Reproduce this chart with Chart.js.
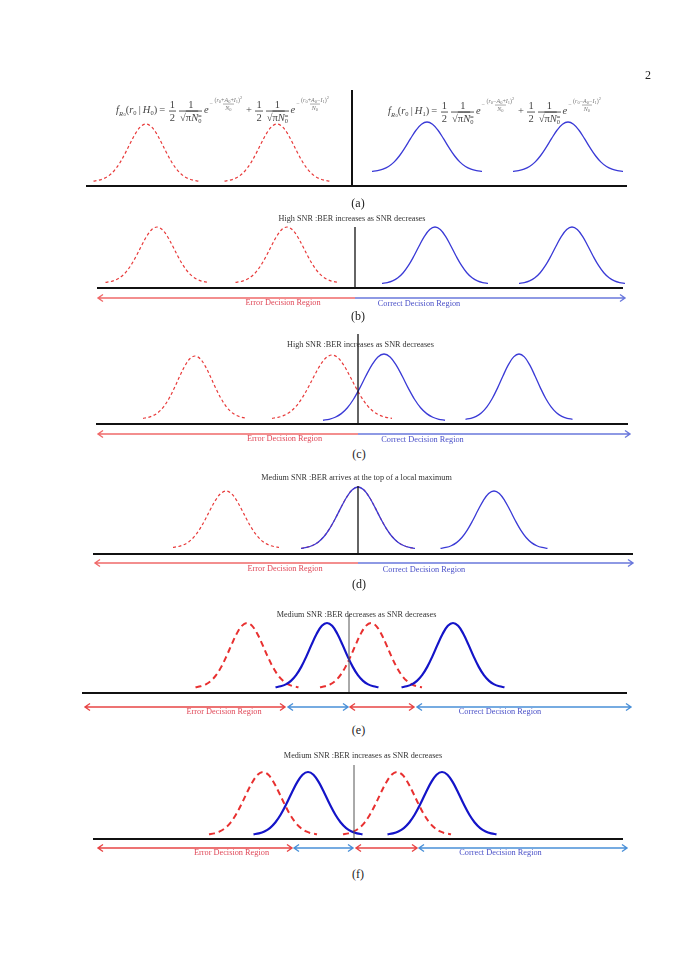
<!DOCTYPE html>
<html>
<head>
<meta charset="utf-8">
<script src="https://cdn.jsdelivr.net/npm/chart.js@4.4.1/dist/chart.umd.min.js"></script>
<style>
html, body { margin: 0; padding: 0; background: #fff; }
#page { position: relative; width: 685px; height: 969px; overflow: hidden;
        font-family: "Liberation Serif", "Times New Roman", serif; color: #333; }
.panel { position: absolute; left: 0; width: 685px; }
.t { position: absolute; white-space: nowrap; transform: translate(-50%, -50%); line-height: 1; }
.cap { font-size: 12px; color: #222; }
.ttl { font-size: 8.2px; color: #333; }
.err { font-size: 8.3px; color: #e04858; }
.cor { font-size: 8.3px; color: #4a50c8; }
.eq { position: absolute; font-family: "Liberation Serif", serif; font-size: 10.5px; color: #444;
      white-space: nowrap; line-height: 1; transform: translateY(-50%); }
.eq sub { font-size: 6.5px; vertical-align: -2px; line-height: 0; }
.fr { display: inline-flex; flex-direction: column; align-items: center; vertical-align: middle;
      line-height: 1.15; margin: 0 1.5px; }
.fr .den { border-top: 0.8px solid #555; padding: 0 1px; }
.ex { display: inline-block; vertical-align: 8px; font-size: 6px; color: #777; margin-left: 1px; }
.ex .fr .den { border-top-color: #aaa; padding: 0 2px; }
.ex sub { font-size: 4.5px; vertical-align: -1px; }
.ex sup { font-size: 4.5px; vertical-align: 3px; line-height: 0; }
</style>
</head>
<body>
<div id="page"></div>
<script>
// bell profile: offset (in half-widths) and relative height
const BELL_U = [-1, -0.9, -0.8, -0.7, -0.6, -0.5, -0.4, -0.3, -0.2, -0.1, 0, 0.1, 0.2, 0.3, 0.4, 0.5, 0.6, 0.7, 0.8, 0.9, 1];
const BELL_H = [0.011, 0.026, 0.056, 0.110, 0.198, 0.325, 0.487, 0.667, 0.835, 0.956, 1, 0.956, 0.835, 0.667, 0.487, 0.325, 0.198, 0.110, 0.056, 0.026, 0.011];

// each curve: [centre r0, half width, peak, tail level]  (threshold at r0 = 0)
const aH0 = [[-20.6, 5.25, 6.2, 0.43], [-7.5, 5.25, 6.2, 0.43]];
const aH1 = [[7.5, 5.5, 6.4, 1.4], [21.6, 5.5, 6.4, 1.4]];
const bRed = [[-19.8, 5.15, 6.1, 0.5], [-6.8, 5.15, 6.1, 0.5]];
const bBlue = [[8.0, 5.3, 6.1, 0.4], [21.7, 5.3, 6.1, 0.4]];
const cRed = [[-16.3, 5.2, 6.8, 0.5], [-2.6, 6.0, 6.9, 0.5]];
const cBlue = [[2.6, 6.1, 7.0, 0.3], [16.1, 5.35, 7.0, 0.4]];
const dRed = [[-13.2, 5.3, 6.3, 0.6], [0, 5.7, 6.7, 0.5]];
const dBlue = [[0, 5.7, 6.7, 0.5], [13.6, 5.35, 6.3, 0.5]];
const eRed = [[-10.2, 5.15, 7.0, 0.5], [2.2, 5.1, 7.0, 0.5]];
const eBlue = [[-2.2, 5.15, 7.0, 0.5], [10.4, 5.15, 7.0, 0.5]];
const fRed = [[-9.1, 5.4, 6.7, 0.4], [4.3, 5.4, 6.7, 0.4]];
const fBlue = [[-4.6, 5.45, 6.7, 0.4], [8.8, 5.45, 6.7, 0.4]];

// decision regions: [from, to, kind, arrow heads]
const bRegions = [[-25.7, 0, 'error', 'start'], [0, 27.0, 'correct', 'end']];
const cRegions = [[-26.0, 0, 'error', 'start'], [0, 27.2, 'correct', 'end']];
const dRegions = [[-26.3, 0, 'error', 'start'], [0, 27.5, 'correct', 'end']];
const eRegions = [[-26.4, -6.4, 'error', 'both'], [-6.1, -0.1, 'correct', 'both'], [0.1, 6.5, 'error', 'both'], [6.8, 28.2, 'correct', 'both']];
const fRegions = [[-25.6, -6.2, 'error', 'both'], [-6.0, -0.1, 'correct', 'both'], [0.2, 6.3, 'error', 'both'], [6.5, 27.3, 'correct', 'both']];

// height of the threshold line per panel
const thresholdTop = [9.6, 6.1, 9.0, 6.8, 7.8, 7.4];

const panelTitles = ['',
    'High SNR  :BER increases as SNR decreases',
    'High SNR  :BER increases as SNR decreases',
    'Medium SNR  :BER arrives at the top of a local maximum',
    'Medium SNR  :BER decreases as SNR decreases',
    'Medium SNR  :BER increases as SNR decreases'];
const panelCaptions = ['(a)', '(b)', '(c)', '(d)', '(e)', '(f)'];
const regionNames = {error: 'Error Decision Region', correct: 'Correct Decision Region'};

// layout in page pixels: canvas band, threshold x, baseline y; unit = 10px
const UNIT = 10;
const PANELS = [
    {top: 80, height: 125, T: 352, B: 186, axis: [-26.6, 27.5], red: aH0, blue: aH1, regions: [], arrowY: 0, bold: false, thrW: 2, thrC: '#111',
     cap: [358, 203], ttl: null, lab: []},
    {top: 205, height: 110, T: 355, B: 288, axis: [-25.8, 26.8], red: bRed, blue: bBlue, regions: bRegions, arrowY: -1.0, bold: false, thrW: 1.3, thrC: '#111',
     cap: [358, 316], ttl: [352, 219], lab: [[283, 303], [419, 304]]},
    {top: 325, height: 120, T: 358, B: 424, axis: [-26.2, 27.0], red: cRed, blue: cBlue, regions: cRegions, arrowY: -1.0, bold: false, thrW: 1.3, thrC: '#111',
     cap: [359, 454], ttl: [360.5, 345], lab: [[284.5, 439], [422.5, 440]]},
    {top: 470, height: 110, T: 358, B: 554, axis: [-26.5, 27.5], red: dRed, blue: dBlue, regions: dRegions, arrowY: -0.9, bold: false, thrW: 1.3, thrC: '#111',
     cap: [359, 584], ttl: [356.5, 478], lab: [[285, 569], [424, 570]]},
    {top: 600, height: 120, T: 349, B: 693, axis: [-26.7, 27.8], red: eRed, blue: eBlue, regions: eRegions, arrowY: -1.4, bold: true, thrW: 1, thrC: '#555',
     cap: [358.5, 730], ttl: [356.5, 615], lab: [[224, 712], [500, 712]]},
    {top: 745, height: 115, T: 354, B: 839, axis: [-26.1, 26.9], red: fRed, blue: fBlue, regions: fRegions, arrowY: -0.9, bold: true, thrW: 1, thrC: '#555',
     cap: [358, 874], ttl: [363, 756], lab: [[231.5, 853], [500.5, 853]]}
];

const page = document.getElementById('page');

function addText(txt, x, y, cls) {
    const d = document.createElement('div');
    d.className = 't ' + cls;
    d.style.left = x + 'px';
    d.style.top = y + 'px';
    d.textContent = txt;
    page.appendChild(d);
}

function bell(c) {
    return BELL_U.map((u, i) => ({x: c[0] + u * c[1], y: c[3] + (c[2] - c[3]) * BELL_H[i]}));
}

const regionPlugin = {
    id: 'regions',
    afterDatasetsDraw(chart) {
        const o = chart.options.plugins.regions;
        if (!o || !o.list.length) return;
        const ctx = chart.ctx, xs = chart.scales.x, ys = chart.scales.y;
        const y = ys.getPixelForValue(o.y);
        ctx.save();
        ctx.lineWidth = 1.4;
        o.list.forEach(r => {
            const x1 = xs.getPixelForValue(r[0]), x2 = xs.getPixelForValue(r[1]);
            ctx.strokeStyle = o.colors[r[2]];
            ctx.beginPath();
            ctx.moveTo(x1, y);
            ctx.lineTo(x2, y);
            if (r[3] === 'start' || r[3] === 'both') {
                ctx.moveTo(x1 + 5, y - 3.5); ctx.lineTo(x1, y); ctx.lineTo(x1 + 5, y + 3.5);
            }
            if (r[3] === 'end' || r[3] === 'both') {
                ctx.moveTo(x2 - 5, y - 3.5); ctx.lineTo(x2, y); ctx.lineTo(x2 - 5, y + 3.5);
            }
            ctx.stroke();
        });
        ctx.restore();
    }
};

PANELS.forEach((p, k) => {
    const wrap = document.createElement('div');
    wrap.className = 'panel';
    wrap.style.top = p.top + 'px';
    wrap.style.height = p.height + 'px';
    const cv = document.createElement('canvas');
    cv.width = 685;
    cv.height = p.height;
    wrap.appendChild(cv);
    page.appendChild(wrap);

    const redStyle = p.bold
        ? {borderColor: '#e83030', borderWidth: 2, borderDash: [6, 4]}
        : {borderColor: '#e83a3a', borderWidth: 1.2, borderDash: [3, 2.5]};
    const blueStyle = p.bold
        ? {borderColor: '#1414c8', borderWidth: 2.2}
        : {borderColor: '#3a3ad6', borderWidth: 1.3};

    const datasets = [
        {data: [{x: p.axis[0], y: 0}, {x: p.axis[1], y: 0}], borderColor: '#111', borderWidth: 2},
        {data: [{x: 0, y: 0}, {x: 0, y: thresholdTop[k]}], borderColor: p.thrC, borderWidth: p.thrW}
    ];
    p.blue.forEach(c => datasets.push(Object.assign({data: bell(c), tension: 0.35}, blueStyle)));
    p.red.forEach(c => datasets.push(Object.assign({data: bell(c), tension: 0.35}, redStyle)));
    datasets.forEach(d => { d.showLine = true; d.pointRadius = 0; d.clip = false; d.fill = false; });

    new Chart(cv.getContext('2d'), {
        type: 'scatter',
        data: {datasets: datasets},
        options: {
            responsive: false,
            animation: false,
            events: [],
            layout: {padding: 0},
            plugins: {
                legend: {display: false},
                tooltip: {enabled: false},
                regions: {
                    list: p.regions, y: p.arrowY,
                    colors: p.bold ? {error: '#e84545', correct: '#4a90d8'} : {error: '#f06a6a', correct: '#6a78dc'}
                }
            },
            scales: {
                x: {type: 'linear', display: false, min: -p.T / UNIT, max: (685 - p.T) / UNIT},
                y: {type: 'linear', display: false, min: -(p.top + p.height - p.B) / UNIT, max: (p.B - p.top) / UNIT}
            }
        },
        plugins: [regionPlugin]
    });

    addText(panelCaptions[k], p.cap[0], p.cap[1], 'cap');
    if (p.ttl) addText(panelTitles[k], p.ttl[0], p.ttl[1], 'ttl');
    if (p.lab.length) {
        addText(regionNames.error, p.lab[0][0], p.lab[0][1], 'err');
        addText(regionNames.correct, p.lab[1][0], p.lab[1][1], 'cor');
    }
});

addText('2', 648, 75, 'cap');

// density formulas above panel (a)
function formula(h, s1, s2) {
    const half = '<span class="fr"><span>1</span><span class="den">2</span></span>';
    const root = '<span class="fr"><span>1</span><span class="den">&radic;<span style="text-decoration:overline">&pi;<i>N</i><sub>0</sub></span></span></span>';
    const ex = s => '<span class="ex">&minus;<span class="fr"><span>(<i>r</i><sub>0</sub>' + s +
        ')<sup>2</sup></span><span class="den"><i>N</i><sub>0</sub></span></span></span>';
    return '<i>f</i><sub><i>R</i>\u200a<span style="font-size:4.5px">0</span></sub>(<i>r</i><sub>0</sub>\u2009|\u2009<i>H</i><sub>' + h + '</sub>)\u2009=\u2009' +
        half + root + '<i>e</i>' + ex(s1) + '\u2009+\u2009' + half + root + '<i>e</i>' + ex(s2);
}
const eqL = document.createElement('div');
eqL.className = 'eq';
eqL.style.left = '116px';
eqL.style.top = '110px';
eqL.innerHTML = formula('0', '+<i>A</i><sub>0</sub>+<i>I</i><sub>1</sub>', '+<i>A</i><sub>0</sub>&minus;<i>I</i><sub>1</sub>');
page.appendChild(eqL);
const eqR = document.createElement('div');
eqR.className = 'eq';
eqR.style.left = '388px';
eqR.style.top = '111px';
eqR.innerHTML = formula('1', '&minus;<i>A</i><sub>0</sub>+<i>I</i><sub>1</sub>', '&minus;<i>A</i><sub>0</sub>&minus;<i>I</i><sub>1</sub>');
page.appendChild(eqR);
</script>
</body>
</html>
